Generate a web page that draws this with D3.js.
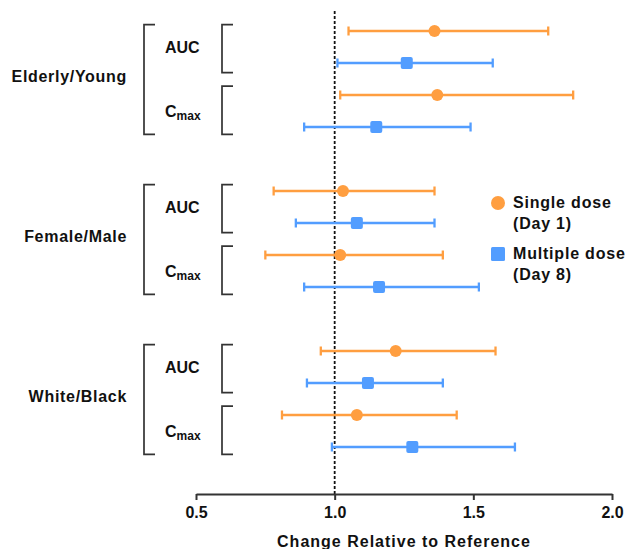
<!DOCTYPE html>
<html><head><meta charset="utf-8">
<script src="https://cdn.jsdelivr.net/npm/d3@7"></script>
<style>
body{margin:0;background:#fff;}
text{font-family:"Liberation Sans",Arial,Helvetica,sans-serif;font-weight:bold;fill:#111;}
</style></head>
<body>
<svg id="c" width="630" height="549"></svg>
<script>
const groups = ["Elderly/Young", "Female/Male", "White/Black"];
const params = ["AUC", "Cmax"];
const seriesNames = ["Single dose|(Day 1)", "Multiple dose|(Day 8)"];
const tickValues = [0.5, 1.0, 1.5, 2.0];
const axisTitle = "Change Relative to Reference";
const referenceValue = 1.0;
// per group, per parameter: [estimate, lower, upper]
const singleDose = [
  [[1.36, 1.05, 1.77], [1.37, 1.02, 1.86]],
  [[1.03, 0.78, 1.36], [1.02, 0.75, 1.39]],
  [[1.22, 0.95, 1.58], [1.08, 0.81, 1.44]]
];
const multipleDose = [
  [[1.26, 1.01, 1.57], [1.15, 0.89, 1.49]],
  [[1.08, 0.86, 1.36], [1.16, 0.89, 1.52]],
  [[1.12, 0.90, 1.39], [1.28, 0.99, 1.65]]
];

const colors = ["#FF9E40", "#529DFF"];
const svg = d3.select("#c");
const x = d3.scaleLinear().domain([0.5, 2.0]).range([196, 612]);
const y = d3.scaleLinear().domain([0, 13]).range([31, 447]);

// rows
const rows = [];
groups.forEach((g, gi) => {
  params.forEach((p, pi) => {
    [singleDose, multipleDose].forEach((s, si) => {
      const v = s[gi][pi];
      rows.push({g: gi, p: pi, s: si, slot: gi * 5 + pi * 2 + si, est: v[0], lo: v[1], hi: v[2]});
    });
  });
});

// reference dashed line
svg.append("line")
  .attr("x1", x(referenceValue)).attr("x2", x(referenceValue))
  .attr("y1", 11).attr("y2", 494)
  .attr("stroke", "#111").attr("stroke-width", 1.8)
  .attr("stroke-dasharray", "3,2");

// error bars
const bars = svg.append("g");
rows.forEach(r => {
  const yy = y(r.slot), c = colors[r.s];
  bars.append("line").attr("x1", x(r.lo)).attr("x2", x(r.hi)).attr("y1", yy).attr("y2", yy)
    .attr("stroke", c).attr("stroke-width", 2.3);
  [r.lo, r.hi].forEach(v => bars.append("line").attr("x1", x(v)).attr("x2", x(v))
    .attr("y1", yy - 4.5).attr("y2", yy + 4.5).attr("stroke", c).attr("stroke-width", 2.3));
  if (r.s === 0) {
    bars.append("circle").attr("cx", x(r.est)).attr("cy", yy).attr("r", 6).attr("fill", c);
  } else {
    bars.append("rect").attr("x", x(r.est) - 6).attr("y", yy - 6).attr("width", 12).attr("height", 12)
      .attr("rx", 2).attr("fill", c);
  }
});

// brackets and labels
const br = svg.append("g").attr("fill", "none").attr("stroke", "#333").attr("stroke-width", 1.7);
function bracket(xv, y1, y2, w) {
  br.append("path").attr("d", `M${xv + w},${y1}H${xv}V${y2}H${xv + w}`);
}
groups.forEach((g, gi) => {
  const base = gi * 5;
  const top = y(base - 0.2), bot = y(base + 3.23);
  bracket(144, top, bot, 11);
  svg.append("text").attr("x", 127).attr("y", (top + bot) / 2 + 3).attr("text-anchor", "end")
    .attr("font-size", 16).attr("letter-spacing", 0.7).text(g);
  params.forEach((p, pi) => {
    const t = y(base + pi * 2 - (pi === 0 ? 0.2 : 0.28));
    const b = y(base + pi * 2 + 1 + (pi === 0 ? 0.3 : 0.23));
    bracket(222, t, b, 11);
    const ty = y(base + pi * 2 + 0.5) + 5.8;
    const txt = svg.append("text").attr("x", 165).attr("y", ty).attr("font-size", 16);
    if (p === "Cmax") {
      txt.append("tspan").text("C");
      txt.append("tspan").attr("font-size", 12).attr("dy", 3.5).text("max");
    } else {
      txt.text(p);
    }
  });
});

// axis
const ax = svg.append("g").attr("transform", "translate(0,494)")
  .call(d3.axisBottom(x).tickValues(tickValues).tickFormat(d3.format(".1f")).tickSize(6).tickSizeOuter(0));
ax.select(".domain").attr("stroke", "#333").attr("stroke-width", 2);
ax.selectAll(".tick line").attr("stroke", "#333").attr("stroke-width", 2);
ax.selectAll(".tick text").attr("font-size", 16).attr("dy", 0).attr("y", 24)
  .style("font-family", '"Liberation Sans",Arial,sans-serif').style("font-weight", "bold").attr("fill", "#111");
svg.append("text").attr("x", (x(0.5) + x(2.0)) / 2).attr("y", 547).attr("text-anchor", "middle")
  .attr("font-size", 16).attr("letter-spacing", 1).text(axisTitle);

// legend
const lg = svg.append("g");
seriesNames.forEach((n, i) => {
  const cy = i === 0 ? 203 : 254;
  if (i === 0) lg.append("circle").attr("cx", 498).attr("cy", cy).attr("r", 7).attr("fill", colors[0]);
  else lg.append("rect").attr("x", 491).attr("y", cy - 7).attr("width", 14).attr("height", 14).attr("rx", 1.5).attr("fill", colors[1]);
  const parts = n.split("|");
  parts.forEach((t, k) => {
    lg.append("text").attr("x", 513).attr("y", cy + 5 + k * 21.3).attr("font-size", 16)
      .attr("letter-spacing", 0.8).text(t);
  });
});
</script>
</body></html>
